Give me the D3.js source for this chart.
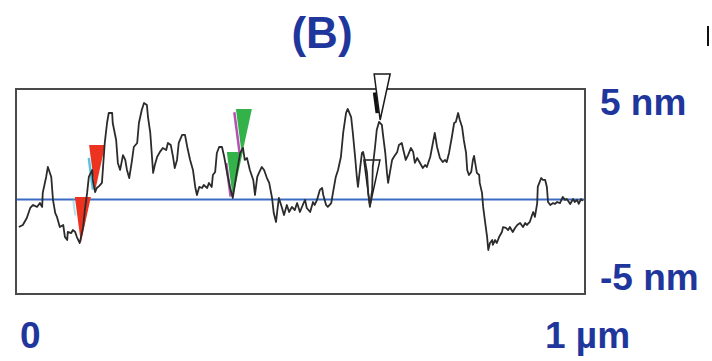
<!DOCTYPE html>
<html>
<head>
<meta charset="utf-8">
<script src="https://cdn.jsdelivr.net/npm/d3@7"></script>
<style>
  html, body { margin: 0; padding: 0; background: #fff; }
  svg { display: block; }
  text { font-family: "Liberation Sans", Arial, sans-serif; font-weight: bold; fill: #1f379c; }
</style>
</head>
<body>
<svg id="chart" width="712" height="361"></svg>
<script>
// Height profile along the section line: distance (nm) and height (nm)
const profilePos = [5,12,19,25,30,37,42,46,47,53,56,62,65,69,72,77,83,86,90,91,97,100,104,107,112,118,121,125,128,134,135,139,142,146,151,153,156,160,163,169,170,176,179,183,188,192,195,199,204,207,213,216,221,225,230,232,236,239,241,244,248,253,258,264,267,272,276,279,283,286,292,297,301,306,311,315,318,322,327,330,336,339,344,346,350,353,357,362,366,371,376,381,388,394,399,402,406,411,417,420,424,427,432,436,441,445,450,453,457,459,462,467,471,476,480,485,490,494,499,504,508,511,517,522,525,529,534,538,540,545,548,554,557,562,566,571,575,580,583,589,592,596,599,601,605,608,610,613,617,619,622,626,627,631,634,638,643,645,649,652,654,657,661,664,670,673,678,682,685,689,694,698,701,705,710,715,719,722,728,733,736,740,745,750,754,757,761,766,770,773,777,780,784,787,791,793,796,800,803,805,807,810,814,815,819,821,824,828,830,833,837,838,842,845,849,854,856,861,865,868,873,877,881,886,891,895,898,903,907,909,912,916,917,923,926,930,933,935,939,944,947,951,956,961,965,968,974,979,982,986,989,993,996];
const profileHeight = [-1.58,-1.46,-1.06,-0.49,-0.32,-0.43,-0.21,-0.43,0.37,1.28,1.85,1.28,-0.03,-0.78,-1.00,-1.58,-1.46,-2.15,-2.32,-1.86,-1.92,-1.75,-1.86,-2.15,-2.49,-1.58,-0.61,0.37,1.28,1.68,1.11,0.42,0.65,0.76,0.94,1.85,3.22,4.36,4.93,4.93,4.36,3.39,2.08,1.68,2.53,2.25,1.68,1.22,2.25,2.99,3.22,4.36,5.10,5.50,5.39,4.70,3.79,2.42,1.51,1.96,2.42,2.71,2.93,2.82,3.22,3.11,2.42,1.79,2.25,3.22,3.68,3.68,2.99,2.25,1.68,0.71,0.25,0.71,0.65,0.82,0.65,0.94,0.71,1.39,1.56,2.65,2.99,2.99,2.42,1.51,0.71,0.08,1.51,2.65,2.93,2.25,2.36,1.68,1.11,0.25,1.28,1.51,1.85,1.68,1.22,0.94,0.08,-0.78,-1.29,-0.72,0.08,-0.43,-0.89,-0.32,-0.72,-0.43,-0.61,-0.21,-0.72,-0.32,-0.03,-0.49,-0.72,-0.15,-0.32,-0.03,0.54,0.65,0.25,-0.32,-0.43,-0.21,0.37,1.28,1.68,2.42,3.79,4.93,5.16,4.70,3.79,2.42,1.28,0.71,1.85,2.65,2.71,2.25,1.51,0.37,-0.43,0.54,1.85,2.99,3.96,4.42,4.25,3.68,2.65,1.51,0.94,1.51,2.25,2.42,2.71,3.11,3.22,2.65,2.25,2.53,2.93,2.71,2.08,2.36,2.08,1.79,1.96,1.85,2.42,3.28,3.79,2.99,2.36,2.13,2.25,2.13,2.65,3.56,4.36,4.42,4.93,4.53,4.13,3.39,2.65,1.68,1.39,1.56,2.25,2.48,2.08,1.51,1.39,0.94,0.37,-0.43,-1.18,-2.15,-2.89,-2.49,-2.32,-2.60,-2.32,-2.49,-2.15,-1.86,-1.58,-1.63,-1.75,-1.58,-1.86,-1.63,-1.46,-1.35,-1.58,-1.35,-1.46,-1.29,-0.89,-0.72,-1.00,-0.21,0.71,1.22,1.11,1.11,0.71,-0.15,-0.32,-0.21,-0.26,-0.15,-0.21,0.14,-0.03,0.02,-0.26,0.02,-0.15,-0.03,-0.26,0.02,-0.09];

// Section cursors: position along the line (nm), height at the tip (nm), cursor pair
const cursorPos = [114, 139, 397, 381, 640, 622];
const cursorHeight = [-2.49, 0.48, 2.53, 0.08, 4.53, -0.38];
const cursorPair = ["red", "red", "green", "green", "white", "white"];

// Axis labels
const yTickValues = [5, -5];
const yTickLabels = ["5 nm", "-5 nm"];
const xTickLabels = ["0", "1 \u00b5m"];
const title = "(B)";

const pairStyle = {
  red:   { fill: "#ec3320", stroke: "none",    accent: "#59c3df" },
  green: { fill: "#33b24a", stroke: "none",    accent: "#b452b4" },
  white: { fill: "#ffffff", stroke: "#1a1a1a", accent: "#111111" }
};
// Accent stripe along the left edge of some cursors: [from, to] as fraction of height, width, opacity
const accentSpec = [[0.95, 0.6, 2, 0.45], [0.72, 0.03, 2.5, 1], [0.93, 0.02, 2.5, 1], [0.76, 0.03, 2.5, 1], [0.6, 0.15, 3.5, 1], null];

const svg = d3.select("#chart");
const box = { left: 16, right: 585, top: 89, bottom: 294 };

const x = d3.scaleLinear().domain([0, 1000]).range([box.left, box.right]);
const y = d3.scaleLinear().domain([-5.4, 6.3]).range([box.bottom, box.top]);

// Frame
svg.append("rect")
  .attr("x", box.left).attr("y", box.top)
  .attr("width", box.right - box.left).attr("height", box.bottom - box.top)
  .attr("fill", "#fff").attr("stroke", "#4a4a4a").attr("stroke-width", 2);

// Reference (zero) line
svg.append("line")
  .attr("x1", box.left + 1).attr("x2", box.right - 1)
  .attr("y1", y(0)).attr("y2", y(0))
  .attr("stroke", "#3b6cc4").attr("stroke-width", 2);

// Cursors: downward triangles with their tip on the profile
const triW = [6, 10], triH = 46;
const cursors = d3.range(cursorPos.length).map(i => ({
  cx: x(cursorPos[i]), cy: y(cursorHeight[i]), style: pairStyle[cursorPair[i]], accent: accentSpec[i]
}));

svg.append("g").selectAll("path").data(cursors).join("path")
  .attr("d", d => {
    const p = d3.path();
    p.moveTo(d.cx - triW[0], d.cy - triH);
    p.lineTo(d.cx + triW[1], d.cy - triH);
    p.lineTo(d.cx, d.cy);
    p.closePath();
    return p.toString();
  })
  .attr("fill", d => d.style.fill)
  .attr("stroke", d => d.style.stroke)
  .attr("stroke-width", 1.5)
  .attr("stroke-linejoin", "miter");

svg.append("g").selectAll("line").data(cursors.filter(d => d.accent)).join("line")
  .attr("x1", d => d.cx - triW[0] * d.accent[0] - 2)
  .attr("y1", d => d.cy - triH * d.accent[0])
  .attr("x2", d => d.cx - triW[0] * d.accent[1] - 2)
  .attr("y2", d => d.cy - triH * d.accent[1])
  .attr("stroke", d => d.style.accent)
  .attr("stroke-width", d => d.accent[2])
  .attr("opacity", d => d.accent[3]);

// Profile trace
const line = d3.line().x(d => x(d[0])).y(d => y(d[1]));
svg.append("path")
  .datum(d3.zip(profilePos, profileHeight))
  .attr("d", line)
  .attr("fill", "none")
  .attr("stroke", "#2b2b2b")
  .attr("stroke-width", 1.8)
  .attr("stroke-linejoin", "round");

// Y labels at the right of the frame
svg.append("g").selectAll("text").data(yTickValues).join("text")
  .attr("x", 600)
  .attr("y", d => y(d) - 9)
  .attr("dominant-baseline", "central")
  .attr("font-size", 37)
  .text((d, i) => yTickLabels[i]);

// X labels under the frame
svg.append("text").attr("x", 20).attr("y", 335).attr("dominant-baseline", "central")
  .attr("font-size", 37).text(xTickLabels[0]);
svg.append("text").attr("x", 545).attr("y", 335).attr("dominant-baseline", "central")
  .attr("font-size", 37).text(xTickLabels[1]);

// Panel title
svg.append("text").attr("x", 322).attr("y", 32).attr("text-anchor", "middle")
  .attr("dominant-baseline", "central").attr("font-size", 44).text(title);

// Thin mark at the upper right corner
svg.append("line").attr("x1", 708).attr("x2", 708).attr("y1", 26).attr("y2", 46)
  .attr("stroke", "#111").attr("stroke-width", 2);
</script>
</body>
</html>
